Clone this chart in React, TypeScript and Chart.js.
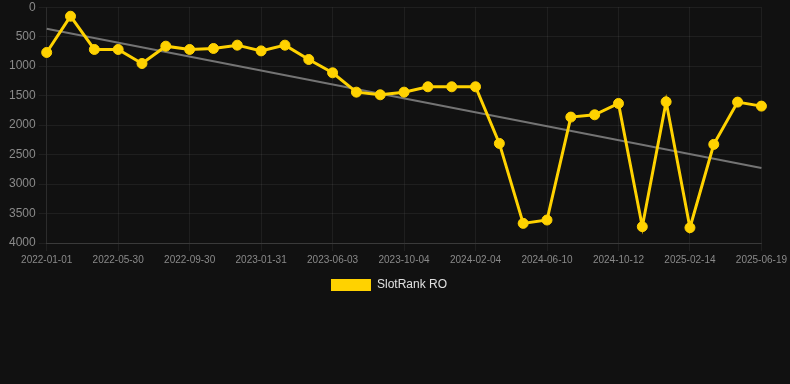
import React, { useEffect, useRef } from "react";
import { Chart, registerables } from "chart.js";

Chart.register(...registerables);

const dates = [
  "2022-01-01", "2022-02-19", "2022-04-09",
  "2022-05-30", "2022-07-11", "2022-08-20",
  "2022-09-30", "2022-11-10", "2022-12-21",
  "2023-01-31", "2023-03-13", "2023-04-23",
  "2023-06-03", "2023-07-14", "2023-08-24",
  "2023-10-04", "2023-11-14", "2023-12-25",
  "2024-02-04", "2024-03-16", "2024-04-28",
  "2024-06-10", "2024-07-21", "2024-08-31",
  "2024-10-12", "2024-11-22", "2025-01-03",
  "2025-02-14", "2025-03-27", "2025-05-08",
  "2025-06-19",
];

const rankRO = [
  768, 153, 717, 717, 955, 661, 717, 700, 644, 741, 644,
  887, 1113, 1441, 1486, 1441, 1350, 1350, 1350, 2311, 3667,
  3610, 1864, 1825, 1633, 3723, 1605, 3740, 2327, 1610, 1678,
];

const trendStart = 367;
const trendEnd = 2729;
const trend = dates.map((_, i) => (i === 0 ? trendStart : i === dates.length - 1 ? trendEnd : null));

const yTicksMax = 4000;
const yStep = 500;

const legendShift = {
  id: "legendShift",
  afterLayout(chart: any) {
    if (chart.legend) {
      chart.legend.left -= 7;
      chart.legend.right -= 7;
    }
  },
};

export default function App() {
  const ref = useRef<HTMLCanvasElement | null>(null);

  useEffect(() => {
    document.body.style.margin = "0";
    const gridColor = "rgba(255,255,255,0.06)";
    const chart = new Chart(ref.current!, {
      type: "line",
      data: {
        labels: dates,
        datasets: [
          {
            label: "SlotRank RO",
            data: rankRO,
            borderColor: "#FFD200",
            backgroundColor: "#FFD200",
            borderWidth: 3,
            pointRadius: 5,
            pointBorderWidth: 1,
            pointBackgroundColor: "#FFD200",
            pointBorderColor: "#FFD200",
            tension: 0,
            order: 1,
          },
          {
            label: "trend",
            data: trend,
            borderColor: "#747474",
            backgroundColor: "#747474",
            borderWidth: 2,
            pointRadius: 0,
            spanGaps: true,
            order: 2,
          },
        ],
      },
      plugins: [legendShift],
      options: {
        responsive: false,
        animation: false,
        layout: { padding: { left: 6, right: 4, top: 0, bottom: 0 } },
        scales: {
          y: {
            reverse: true,
            min: 0,
            max: yTicksMax,
            ticks: {
              stepSize: yStep,
              color: "#8a8a8a",
              font: { size: 12, family: "Liberation Sans, Arial, sans-serif" },
              callback: (v: any) => String(v),
            },
            grid: { color: gridColor },
            border: { color: gridColor },
          },
          x: {
            ticks: {
              autoSkip: false,
              maxRotation: 0,
              color: "#8a8a8a",
              font: { size: 10, family: "Liberation Sans, Arial, sans-serif" },
              callback: (_v: any, i: number) => (i % 3 === 0 ? dates[i] : ""),
            },
            grid: {
              color: (ctx: any) => (ctx.index % 3 === 0 ? gridColor : "transparent"),
            },
            border: { color: "rgba(255,255,255,0.12)" },
          },
        },
        plugins: {
          legend: {
            position: "bottom",
            labels: {
              color: "#e0e0e0",
              boxWidth: 40,
              boxHeight: 12,
              font: { size: 12, family: "Liberation Sans, Arial, sans-serif" },
              generateLabels: () => [
                {
                  text: "SlotRank RO",
                  fillStyle: "#FFD200",
                  strokeStyle: "#FFD200",
                  lineWidth: 0,
                  fontColor: "#e0e0e0",
                  hidden: false,
                  datasetIndex: 0,
                },
              ],
            },
          },
          tooltip: { enabled: false },
        },
      },
    });
    return () => chart.destroy();
  }, []);

  return (
    <div style={{ position: "absolute", left: 0, top: 0, width: 790, height: 384, background: "#111111", overflow: "hidden" }}>
      <canvas ref={ref} width={790} height={304} style={{ position: "absolute", left: 0, top: -3 }} />
    </div>
  );
}
